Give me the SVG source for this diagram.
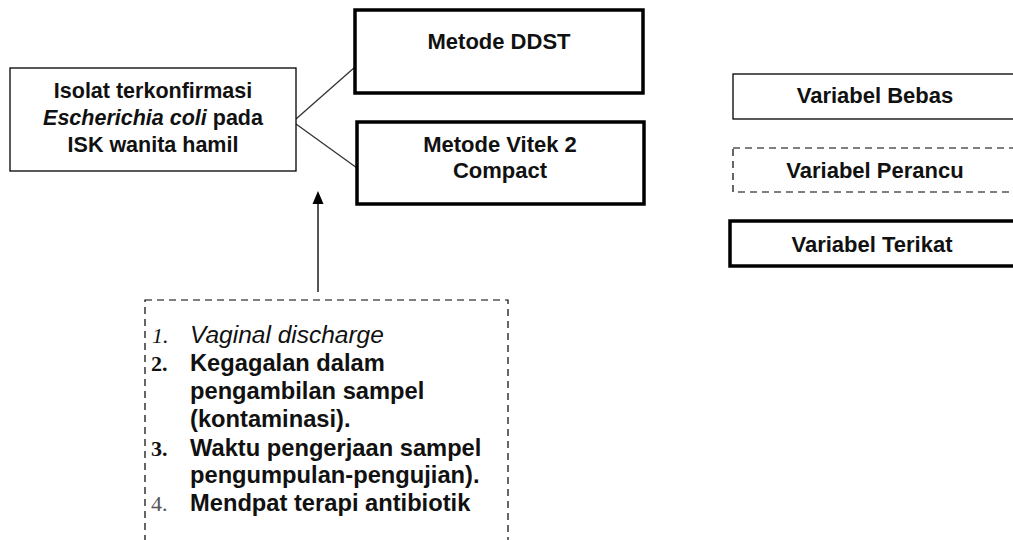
<svg xmlns="http://www.w3.org/2000/svg" width="1013" height="540" viewBox="0 0 1013 540">
<style>
.b{fill:#fff;stroke:#000}
.thin{stroke-width:1.3}
.thick{stroke-width:3.5}
.dash{fill:#fff;stroke:#000;stroke-width:1.2;stroke-dasharray:7 5}
text{font-family:"Liberation Sans",Arial,sans-serif;font-weight:bold;fill:#111}
.c{text-anchor:middle}
.n{font-family:"Liberation Serif","Times New Roman",serif;font-size:22px}
.l{font-size:23.7px}
.it{font-style:italic}
.nb{font-weight:normal}
</style>
<rect width="1013" height="540" fill="#fff"/>
<g id="connectors" stroke="#333" stroke-width="1.3" fill="none">
<line x1="296" y1="119" x2="355" y2="67"/>
<line x1="296" y1="124" x2="357" y2="168"/>
<line x1="318" y1="292" x2="318" y2="203" stroke="#555" stroke-width="2"/>
<path d="M318,191 L323.5,204 L312.5,204 Z" fill="#000" stroke="none"/>
</g>
<g id="isolat">
<rect class="b thin" x="10" y="68" width="286" height="103"/>
<text class="c" x="153" y="98" font-size="21.5">Isolat terkonfirmasi</text>
<text class="c" x="153" y="125" font-size="21.5"><tspan class="it">Escherichia coli</tspan> pada</text>
<text class="c" x="153" y="152" font-size="21.5">ISK wanita hamil</text>
</g>
<g id="ddst">
<rect class="b thick" x="355" y="10" width="288" height="83"/>
<text class="c" x="499" y="49" font-size="22">Metode DDST</text>
</g>
<g id="vitek">
<rect class="b thick" x="357" y="122" width="287" height="82"/>
<text class="c" x="500" y="152" font-size="22">Metode Vitek 2</text>
<text class="c" x="500" y="178" font-size="22">Compact</text>
</g>
<g id="perancu-list">
<rect class="dash" x="145" y="300" width="363" height="250"/>
<text class="n it nb" x="152" y="343">1.</text>
<text class="it nb" x="190" y="343" font-size="24.5">Vaginal discharge</text>
<text class="n" x="151" y="371">2.</text>
<text class="l" x="190" y="371">Kegagalan dalam</text>
<text class="l" x="190" y="399">pengambilan sampel</text>
<text class="l" x="190" y="427">(kontaminasi).</text>
<text class="n" x="151" y="456">3.</text>
<text class="l" x="190" y="456">Waktu pengerjaan sampel</text>
<text class="l" x="190" y="483">pengumpulan-pengujian).</text>
<text class="n nb" x="151" y="511" style="fill:#555">4.</text>
<text class="l" x="190" y="511">Mendpat terapi antibiotik</text>
</g>
<g id="legend-bebas">
<rect class="b thin" x="733" y="74" width="290" height="45"/>
<text class="c" x="875" y="103" font-size="22">Variabel Bebas</text>
</g>
<g id="legend-perancu">
<rect class="dash" x="733" y="148" width="290" height="44"/>
<text class="c" x="875" y="178" font-size="22">Variabel Perancu</text>
</g>
<g id="legend-terikat">
<rect class="b thick" x="730" y="221" width="295" height="45"/>
<text class="c" x="872" y="252" font-size="22">Variabel Terikat</text>
</g>
</svg>
